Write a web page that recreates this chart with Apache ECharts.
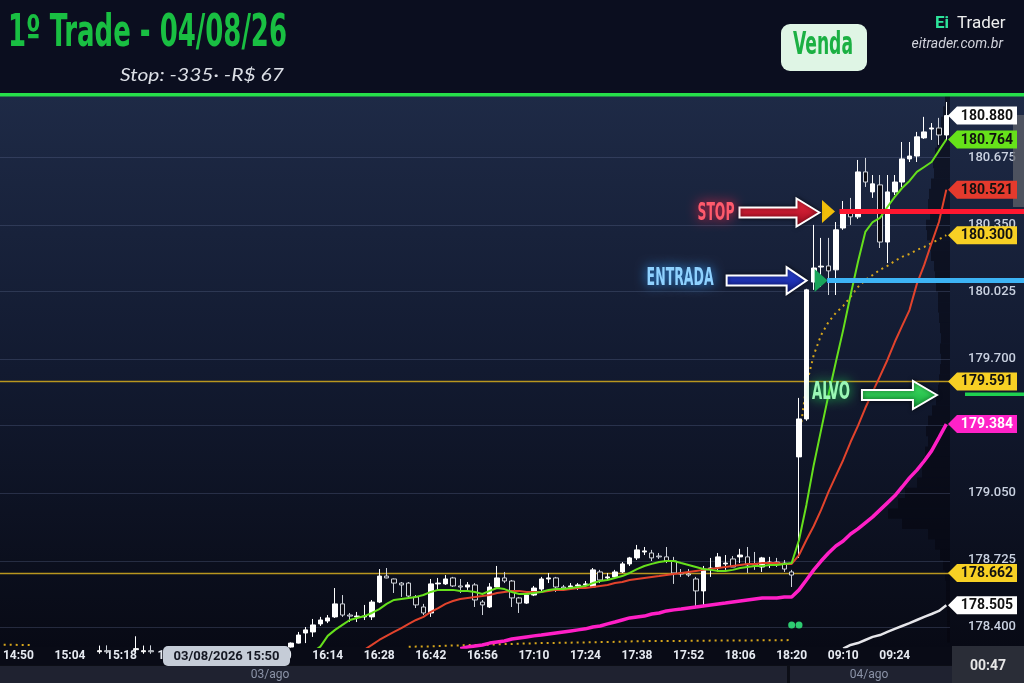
<!DOCTYPE html>
<html><head><meta charset="utf-8">
<script src="https://cdn.jsdelivr.net/npm/echarts@6/dist/echarts.min.js"></script>
<style>html,body{margin:0;padding:0;background:#0b0e1e;}#c{width:1024px;height:683px;}</style>
</head><body><div id="c"></div>
<script>
// ---------- DATA ----------
const sessions = [{day:'03/ago', start:'14:46', bars:109}, {day:'04/ago', start:'09:00', bars:20}];
const gridTicks = [178.400, 178.725, 179.050, 179.375, 179.700, 180.025, 180.350, 180.675];
const goldLevels = [179.591, 178.662];
const entryPrice = 180.080, stopPrice = 180.415, targetPrice = 179.530;
const entryBar = 111, stopBar = 112;
const signalDots = [[107, 178.410], [108, 178.410]];

// sparse candles at the far left (mostly below view): [index, open, close, low, high]
const sparseCandles = [
  [13, 178.280, 178.285, 178.270, 178.310], [14, 178.285, 178.280, 178.270, 178.311],
  [18, 178.290, 178.295, 178.280, 178.355], [19, 178.280, 178.285, 178.270, 178.310],
  [20, 178.285, 178.280, 178.270, 178.311]
];
const candleStart = 39;
// [open, close, low, high]
const candles = [
 [178.303,178.322,178.300,178.325],[178.322,178.361,178.320,178.376],[178.371,178.386,178.322,178.400],
 [178.376,178.410,178.352,178.439],[178.415,178.434,178.405,178.449],[178.429,178.444,178.419,178.458],
 [178.449,178.512,178.444,178.589],[178.512,178.458,178.449,178.555],[178.458,178.453,178.424,178.468],
 [178.449,178.453,178.424,178.473],[178.449,178.453,178.434,178.507],[178.449,178.521,178.434,178.531],
 [178.521,178.647,178.516,178.681],[178.647,178.638,178.636,178.686],[178.633,178.613,178.565,178.635],
 [178.613,178.604,178.546,178.618],[178.613,178.550,178.540,178.618],[178.546,178.507,178.492,178.555],
 [178.497,178.468,178.458,178.512],[178.468,178.609,178.449,178.633],[178.609,178.613,178.580,178.638],
 [178.609,178.633,178.604,178.652],[178.638,178.599,178.594,178.643],[178.599,178.594,178.565,178.633],
 [178.594,178.604,178.580,178.618],[178.604,178.531,178.497,178.613],[178.521,178.507,178.458,178.531],
 [178.497,178.594,178.492,178.613],[178.594,178.638,178.589,178.696],[178.638,178.623,178.613,178.667],
 [178.623,178.541,178.497,178.628],[178.541,178.516,178.468,178.546],[178.516,178.555,178.512,178.565],
 [178.555,178.589,178.550,178.599],[178.584,178.633,178.570,178.643],[178.633,178.638,178.613,178.662],
 [178.638,178.594,178.570,178.643],[178.594,178.589,178.580,178.604],[178.594,178.599,178.580,178.613],
 [178.599,178.604,178.580,178.613],[178.604,178.609,178.594,178.623],[178.594,178.677,178.589,178.686],
 [178.667,178.628,178.613,178.677],[178.638,178.643,178.628,178.662],[178.643,178.667,178.638,178.677],
 [178.667,178.706,178.662,178.715],[178.706,178.735,178.696,178.740],[178.735,178.774,178.725,178.798],
 [178.764,178.769,178.749,178.788],[178.759,178.735,178.720,178.774],[178.744,178.740,178.730,178.759],
 [178.740,178.720,178.710,178.788],[178.720,178.662,178.609,178.740],[178.662,178.657,178.643,178.681],
 [178.657,178.652,178.643,178.681],[178.633,178.575,178.502,178.643],[178.575,178.681,178.502,178.696],
 [178.681,178.686,178.643,178.735],[178.691,178.740,178.667,178.759],[178.706,178.710,178.677,178.749],
 [178.730,178.691,178.691,178.744],[178.740,178.749,178.710,178.779],[178.740,178.701,178.662,178.788],
 [178.706,178.701,178.677,178.764],[178.691,178.735,178.667,178.740],[178.710,178.715,178.686,178.740],
 [178.715,178.710,178.691,178.735],[178.710,178.681,178.667,178.725],[178.667,178.652,178.594,178.677],
 [179.225,179.409,178.735,179.511],[179.409,180.035,179.400,180.040],[180.073,180.141,180.035,180.350],
 [180.146,180.150,180.049,180.287],[180.151,180.127,180.010,180.287],[180.132,180.326,180.010,180.364],
 [180.335,180.408,180.326,180.466],[180.408,180.389,180.350,180.481],[180.389,180.607,180.379,180.665],
 [180.607,180.558,180.534,180.675],[180.510,180.549,180.481,180.592],[180.544,180.267,180.238,180.592],
 [180.267,180.510,180.165,180.592],[180.510,180.558,180.495,180.592],[180.558,180.670,180.534,180.752],
 [180.670,180.684,180.655,180.752],[180.684,180.777,180.655,180.801],[180.772,180.801,180.767,180.874],
 [180.815,180.820,180.762,180.844],[180.820,180.786,180.738,180.869],[180.786,180.880,180.762,180.946]
];

const greenStart = 42;
const greenMA = [178.280,178.305,178.357,178.386,178.410,178.434,178.444,178.453,178.468,178.487,178.512,
 178.531,178.536,178.541,178.546,178.555,178.570,178.580,178.580,178.580,178.575,178.575,178.570,178.560,
 178.575,178.589,178.584,178.570,178.560,178.560,178.565,178.570,178.580,178.584,178.584,178.589,178.594,
 178.599,178.613,178.623,178.628,178.638,178.647,178.662,178.681,178.696,178.706,178.715,178.720,178.720,
 178.710,178.701,178.691,178.681,178.677,178.672,178.672,178.677,178.686,178.691,178.696,178.696,178.701,
 178.701,178.706,178.710,178.822,178.992,179.186,179.356,179.525,179.685,179.841,180.010,180.170,180.316,
 180.364,180.384,180.437,180.486,180.529,180.563,180.607,180.631,180.655,180.710,180.764];

const redStart = 49;
const redMA = [178.290,178.313,178.337,178.357,178.376,178.395,178.415,178.434,178.449,178.473,178.492,
 178.512,178.526,178.536,178.541,178.546,178.550,178.555,178.565,178.570,178.575,178.575,178.570,178.570,
 178.570,178.575,178.580,178.580,178.584,178.589,178.589,178.594,178.599,178.604,178.613,178.618,178.628,
 178.633,178.638,178.643,178.647,178.652,178.657,178.662,178.667,178.672,178.677,178.681,178.686,178.691,
 178.696,178.701,178.706,178.706,178.710,178.710,178.710,178.706,178.706,178.749,178.822,178.890,178.968,
 179.055,179.133,179.210,179.297,179.375,179.462,179.540,179.617,179.695,179.782,179.860,179.937,180.064,
 180.156,180.262,180.364,180.521];

const pinkStart = 62;
const pinkMA = [178.295,178.303,178.308,178.313,178.322,178.327,178.332,178.342,178.347,178.352,178.357,
 178.361,178.366,178.371,178.376,178.381,178.386,178.391,178.400,178.405,178.415,178.424,178.434,178.444,
 178.449,178.453,178.463,178.468,178.478,178.483,178.487,178.492,178.497,178.502,178.507,178.512,178.516,
 178.521,178.526,178.531,178.536,178.541,178.541,178.541,178.546,178.546,178.580,178.628,178.677,178.720,
 178.759,178.793,178.817,178.851,178.876,178.905,178.934,178.968,179.002,179.036,179.079,179.123,179.161,
 179.205,179.254,179.318,179.384];

const whiteStart = 114;
const whiteMA = [178.295,178.313,178.322,178.337,178.352,178.361,178.376,178.391,178.405,178.419,178.434,
 178.449,178.463,178.478,178.505];

const vwapA_start = 0;
const vwapA = [178.314,178.314,178.313,178.313,178.312];
const vwapB_start = 55;
const vwapB = [178.304,178.305,178.306,178.306,178.308,178.309,178.310,178.311,178.312,178.313,178.313,
 178.314,178.316,178.317,178.318,178.319,178.320,178.321,178.322,178.323,178.323,178.324,178.324,178.325,
 178.325,178.326,178.327,178.327,178.328,178.329,178.330,178.331,178.331,178.332,178.332,178.332,178.332,
 178.332,178.333,178.333,178.333,178.334,178.334,178.334,178.335,178.335,178.335,178.335,178.336,178.336,
 178.336,178.336,178.337];
const vwapC_start = 108;
const vwapC = [179.307,179.574,179.719,179.816,179.879,179.923,179.957,180.001,180.049,180.083,180.107,
 180.132,180.151,180.175,180.195,180.209,180.229,180.243,180.262,180.280,180.300];

// volume-at-price profile (relative units)
const profileStep = 0.05;
const profilePrices = [180.95,180.90,180.85,180.80,180.75,180.70,180.65,180.60,180.55,180.50,180.45,180.40,
 180.35,180.30,180.25,180.20,180.15,180.10,180.05,180.00,179.95,179.90,179.85,179.80,179.75,179.70,179.65,
 179.60,179.55,179.50,179.45,179.40,179.35,179.30,179.25,179.20,179.15,179.10,179.05,179.00,178.95,178.90,
 178.85,178.80,178.75,178.70,178.65,178.60,178.55,178.50,178.45,178.40,178.35];
const profileVolumes = [5,7,9,12,13,15,17,16,19,21,22,20,24,23,20,19,16,15,14,12,12,11,10,9,10,9,10,
 11,12,14,18,22,24,22,25,27,28,33,45,52,62,48,22,15,10,7,5,4,4,3,3,3,3];

// ---------- BUILD ----------
const categories = [];
sessions.forEach(s => {
  const [h, m] = s.start.split(':').map(Number);
  for (let k = 0; k < s.bars; k++) {
    const t = h * 60 + m + 2 * k;
    categories.push(String(Math.floor(t / 60)).padStart(2, '0') + ':' + String(t % 60).padStart(2, '0'));
  }
});
const pad = (start, arr) => categories.map((_, i) => (i >= start && i < start + arr.length) ? arr[i - start] : '-');
const candleData = categories.map(() => '-');
sparseCandles.forEach(([i, o, c, l, h]) => candleData[i] = [o, c, l, h]);
candles.forEach((d, k) => candleData[candleStart + k] = d);
const last = a => a[a.length - 1];

const yMin = 178.303, yMax = 180.980;
const FONT = 'Roboto, "DejaVu Sans", sans-serif';

const chart = echarts.init(document.getElementById('c'), null, {renderer: 'canvas'});
const lineS = (name, start, arr, color, width, type, z) => ({
  name, type: 'line', data: pad(start, arr), showSymbol: false, symbol: 'none', silent: true,
  lineStyle: {color, width, type: type || 'solid', opacity: 1}, z: z || 4, animation: false
});
const hLines = (name, values, color, width, z) => ({
  name, type: 'line', data: [], silent: true, z,
  markLine: {silent: true, symbol: ['none', 'none'], label: {show: false}, animation: false,
    lineStyle: {color, width, type: 'solid', opacity: 1},
    emphasis: {disabled: true},
    data: values.map(v => ({yAxis: v}))}
});

const option = {
  animation: false,
  backgroundColor: 'transparent',
  grid: {left: 0, right: 74, top: 95, bottom: 36, containLabel: false, outerBoundsMode: 'none'},
  xAxis: [{
    type: 'category', data: categories, boundaryGap: true,
    axisLine: {show: false}, axisTick: {show: false}, splitLine: {show: false},
    axisLabel: {interval: (i) => i % 7 === 2 && i < 125, color: '#e6eaf1', fontSize: 12, fontWeight: 'bold',
      fontFamily: FONT, margin: 3}
  }, {
    type: 'value', gridIndex: 0, min: 0, max: 950, inverse: true, show: false, position: 'top'
  }],
  yAxis: [{
    type: 'value', position: 'right', min: yMin, max: yMax, scale: true,
    axisLine: {show: false}, axisTick: {show: false, customValues: gridTicks},
    splitLine: {show: false},
    axisLabel: {customValues: gridTicks, formatter: v => v.toFixed(3), color: '#c9d1e0', fontSize: 13,
      fontWeight: 500, fontFamily: FONT, margin: 18, showMinLabel: true, showMaxLabel: true}
  }],
  series: [
    {
      name: 'profile', type: 'custom', xAxisIndex: 1, yAxisIndex: 0, silent: true, z: 1,
      data: profilePrices.map((p, i) => [profileVolumes[i], p]),
      renderItem: (params, api) => {
        const vol = api.value(0), p = api.value(1);
        const a = api.coord([vol, p + profileStep / 2]);
        const b = api.coord([0, p - profileStep / 2]);
        return {type: 'rect', shape: {x: a[0], y: a[1], width: b[0] - a[0], height: b[1] - a[1]},
          style: {fill: 'rgba(6,6,14,0.55)'}};
      }
    },
    hLines('gridlines', gridTicks, 'rgba(95,110,145,0.32)', 1, 1),
    hLines('goldlines', goldLevels, '#b9961f', 1.3, 2),
    lineS('vwapA', vwapA_start, vwapA, '#d6a61c', 2, [2, 4], 3),
    lineS('vwapB', vwapB_start, vwapB, '#d6a61c', 2, [2, 4], 3),
    lineS('vwapC', vwapC_start, vwapC, '#d6a61c', 2, [2, 4], 3),
    {
      name: 'price', type: 'candlestick', data: candleData, barWidth: 5, silent: true, z: 5, clip: true,
      itemStyle: {color: '#ffffff', color0: '#0b0b12', borderColor: '#ffffff', borderColor0: '#cfd3da', borderWidth: 1}
    },
    lineS('white', whiteStart, whiteMA, '#e6e6ea', 2.5, null, 6),
    lineS('pink', pinkStart, pinkMA, '#ff1fc6', 3.5, null, 6),
    lineS('red', redStart, redMA, '#e2432c', 2, null, 6),
    lineS('green', greenStart, greenMA, '#66e01c', 2, null, 7),
    {
      name: 'dots', type: 'scatter', data: signalDots, symbolSize: 7, silent: true, z: 7,
      itemStyle: {color: '#2ecc71', opacity: 1}
    },
    {
      name: 'signals', type: 'scatter', silent: true, z: 8, symbol: 'triangle', symbolRotate: -90, symbolSize: [23, 13],
      data: [
        {value: [stopBar, stopPrice], itemStyle: {color: '#f0bd0a', opacity: 1}},
        {value: [entryBar, entryPrice], itemStyle: {color: '#19a55a', opacity: 1}}
      ]
    }
  ]
};
chart.setOption(option);

// ---------- OVERLAY (anchored through the chart's own scales) ----------
const P = (i, v) => chart.convertToPixel({gridIndex: 0}, [i, v]);
const Y = v => P(0, v)[1];
const mctx = document.createElement('canvas').getContext('2d');
const fit = (text, font, target) => { mctx.font = font; return target / mctx.measureText(text).width; };
const COND = '"DejaVu Sans Condensed","Liberation Sans Narrow","DejaVu Sans",sans-serif';

const G = [];
// backgrounds
G.push({type: 'rect', z: -10, shape: {x: 0, y: 0, width: 1024, height: 93}, style: {fill: '#0b0e1f'}});
G.push({type: 'rect', z: -10, shape: {x: 0, y: 95, width: 1024, height: 553},
  style: {fill: new echarts.graphic.LinearGradient(0, 0, 0, 1, [
    {offset: 0, color: '#1e2a46'}, {offset: 0.5, color: '#121a30'}, {offset: 1, color: '#080a15'}])}});
G.push({type: 'rect', z: -10, shape: {x: 0, y: 647, width: 1024, height: 18}, style: {fill: '#090b16'}});
G.push({type: 'rect', z: -10, shape: {x: 0, y: 665, width: 1024, height: 18}, style: {fill: '#0c0e16'}});
G.push({type: 'rect', z: 20, shape: {x: 0, y: 666, width: 787, height: 17}, style: {fill: '#1f2230'}});
G.push({type: 'rect', z: 20, shape: {x: 790, y: 666, width: 162, height: 17}, style: {fill: '#1f2230'}});
G.push({type: 'text', z: 21, x: 270, y: 675, style: {text: sessions[0].day, fill: '#8b93a7', font: '12px ' + FONT, align: 'center', verticalAlign: 'middle'}});
G.push({type: 'text', z: 21, x: 869, y: 675, style: {text: sessions[1].day, fill: '#8b93a7', font: '12px ' + FONT, align: 'center', verticalAlign: 'middle'}});
G.push({type: 'rect', z: 20, shape: {x: 952, y: 646, width: 72, height: 37}, style: {fill: '#2a2d37'}});
G.push({type: 'text', z: 21, x: 988, y: 666, style: {text: '00:47', fill: '#e6e6e6', font: 'bold 14px ' + FONT, align: 'center', verticalAlign: 'middle'}});
// crosshair time label
G.push({type: 'rect', z: 20, shape: {x: 163, y: 646, width: 127, height: 20, r: 5}, style: {fill: '#c5ccd7'}});
G.push({type: 'text', z: 21, x: 226.5, y: 656.5, style: {text: '03/08/2026 15:50', fill: '#141722', font: 'bold 13px ' + FONT, align: 'center', verticalAlign: 'middle'}});
// scrollbar
G.push({type: 'rect', z: 20, shape: {x: 1013, y: 115, width: 11, height: 92}, style: {fill: 'rgba(95,97,106,0.75)'}});
// header
G.push({type: 'rect', z: 30, shape: {x: 0, y: 93, width: 1024, height: 3.5}, style: {fill: '#26e04a'}});
const tFont = 'bold 44px ' + COND, tText = '1º Trade - 04/08/26';
G.push({type: 'text', z: 30, x: 8, y: 35, scaleX: fit(tText, tFont, 279), style: {text: tText, font: tFont, fill: '#19bf42', align: 'left', verticalAlign: 'middle'}});
const sFont = 'italic 17px Lato, "Open Sans", sans-serif', sText = 'Stop: -335· -R$ 67';
G.push({type: 'text', z: 30, x: 120, y: 76, scaleX: fit(sText, sFont, 164), style: {text: sText, font: sFont, fill: '#dcdfe6', align: 'left', verticalAlign: 'middle'}});
G.push({type: 'rect', z: 30, shape: {x: 781, y: 24, width: 86, height: 47, r: 9}, style: {fill: '#dff5e5'}});
const vFont = 'bold 32px ' + COND;
G.push({type: 'text', z: 31, x: 793, y: 46, scaleX: fit('Venda', vFont, 60), style: {text: 'Venda', font: vFont, fill: '#1bb043', align: 'left', verticalAlign: 'middle'}});
G.push({type: 'text', z: 30, x: 935, y: 24, style: {text: 'Ei', font: 'bold 17px ' + FONT, fill: '#2de39a', align: 'left', verticalAlign: 'middle'}});
G.push({type: 'text', z: 30, x: 957, y: 24, style: {text: 'Trader', font: '17px ' + FONT, fill: '#eeeeee', align: 'left', verticalAlign: 'middle'}});
G.push({type: 'text', z: 30, x: 1003, y: 44, style: {text: 'eitrader.com.br', font: 'italic 14px ' + FONT, fill: '#d2d3dc', align: 'right', verticalAlign: 'middle'}});

// trade lines
const stopY = Y(stopPrice), entryY = Y(entryPrice), targetY = Y(targetPrice);
const sx = P(stopBar, stopPrice)[0] + 11, ex = P(entryBar, entryPrice)[0] + 6;
G.push({type: 'rect', z: 12, shape: {x: sx, y: stopY - 2.5, width: 1024 - sx, height: 5}, style: {fill: '#ff1730'}});
G.push({type: 'rect', z: 12, shape: {x: ex, y: entryY - 2.5, width: 1024 - ex, height: 5}, style: {fill: '#3db4f5'}});
G.push({type: 'rect', z: 12, shape: {x: 965, y: targetY - 1.5, width: 59, height: 3.5}, style: {fill: '#1fd150'}});

// arrows
const arrow = (tipX, tipY, L, hl, hh, hs, c1, c2) => ({
  type: 'polygon', z: 13, x: tipX, y: tipY,
  shape: {points: [[0, 0], [-hl, -hh], [-hl, -hs], [-L, -hs], [-L, hs], [-hl, hs], [-hl, hh]]},
  style: {fill: new echarts.graphic.LinearGradient(0, 0, 0, 1, [{offset: 0, color: c1}, {offset: 1, color: c2}]),
    stroke: '#ffffff', lineWidth: 2, lineJoin: 'miter', shadowBlur: 4, shadowColor: 'rgba(0,0,0,0.6)'}
});
const rTipX = P(stopBar, stopPrice)[0] - 9, bTipX = P(entryBar, entryPrice)[0] - 14.5, gTipX = P(127, targetPrice)[0] - 2;
G.push(arrow(rTipX, stopY + 1, 80, 23, 14, 5, '#ee2a40', '#a00b20'));
G.push(arrow(bTipX, entryY, 80, 20, 13.5, 5, '#2e48e0', '#0f1c8a'));
G.push(arrow(gTipX, targetY + 1, 75, 24, 14, 5, '#45e868', '#13a33a'));
const aFont = 'bold 25px ' + COND;
const glowText = (text, x, y, w, fill, glow) => ({
  type: 'text', z: 13, x, y, scaleX: fit(text, aFont, w),
  style: {text, font: aFont, fill, align: 'left', verticalAlign: 'middle',
    shadowColor: glow, shadowBlur: 12, textShadowColor: glow, textShadowBlur: 12}
});
G.push(glowText('STOP', rTipX - 122, stopY + 2, 37, '#ff5a6c', '#ff1f44'));
G.push(glowText('ENTRADA', bTipX - 160, entryY - 2, 67, '#8fd2ff', '#2f9cff'));
G.push(glowText('ALVO', gTipX - 125, targetY - 1, 38, '#9af7b5', '#1fe052'));

// price tags on the right axis
const tags = [
  {v: last(candles)[1], bg: '#ffffff', fg: '#111111'},
  {v: last(greenMA), bg: '#66e21a', fg: '#111111'},
  {v: last(redMA), bg: '#e43a2d', fg: '#111111'},
  {v: last(vwapC), bg: '#f7d024', fg: '#111111'},
  {v: goldLevels[0], bg: '#f7d024', fg: '#111111'},
  {v: last(pinkMA), bg: '#ff22c8', fg: '#ffffff'},
  {v: goldLevels[1], bg: '#f7d024', fg: '#111111'},
  {v: last(whiteMA), bg: '#ffffff', fg: '#111111'}
];
tags.forEach(t => {
  const y = Y(t.v);
  G.push({type: 'polygon', z: 40, shape: {points: [[948, y], [957, y - 9], [1017, y - 9], [1017, y + 9], [957, y + 9]]},
    style: {fill: t.bg}});
  G.push({type: 'text', z: 41, x: 987, y: y + 0.5, style: {text: t.v.toFixed(3), font: 'bold 14px ' + FONT, fill: t.fg, align: 'center', verticalAlign: 'middle'}});
});

chart.setOption({graphic: {elements: G}});
</script></body></html>
